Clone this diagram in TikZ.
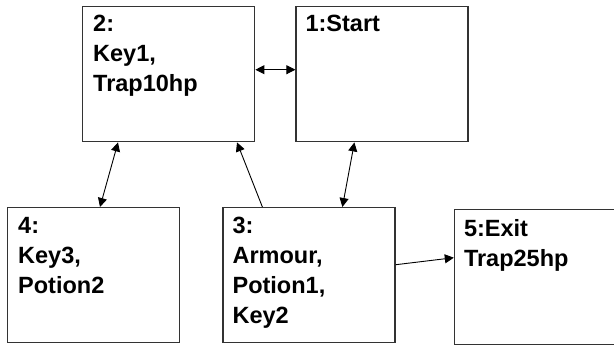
\documentclass[tikz,border=0pt]{standalone}
\usepackage{fontspec}
\setmainfont{Liberation Sans}
\usetikzlibrary{positioning,arrows.meta}

\begin{document}
\begin{tikzpicture}[
		x=1pt, y=-1pt,
		node distance=40pt,
		room/.style={
			draw=black!80,
			line width=1.4pt,
			rectangle,
			minimum width=172pt,
			minimum height=135pt,
			inner sep=0pt,
		},
		roomtext/.style={
			anchor=north west,
			inner sep=0pt,
			align=left,
			font=\fontsize{23.5}{30}\selectfont\bfseries,
		},
		door/.style={
			line width=0.9pt,
			-{Triangle[length=9pt,width=9pt]},
		},
		twoway/.style={
			line width=0.9pt,
			{Triangle[length=9pt,width=9pt]}-{Triangle[length=9pt,width=9pt]},
		},
	]

	\useasboundingbox (0,0) rectangle (614,346);

	\node [room, anchor=north west] (room2) at (82,6) {};
	\node [room, right=of room2] (room1) {};
	\node [room, anchor=north west] (room4) at (7,207) {};
	\node [room, right=42pt of room4] (room3) {};
	\node [room, right=58pt of room3, yshift=-2pt] (room5) {};

	% what is in each room
	\node [roomtext] (txt2) at ([shift={(11,9)}]room2.north west) {2:\\Key1,\\Trap10hp};
	\node [roomtext] (txt1) at ([shift={(10,9)}]room1.north west) {1:Start};
	\node [roomtext] (txt4) at ([shift={(11,10)}]room4.north west) {4:\\Key3,\\Potion2};
	\node [roomtext] (txt3) at ([shift={(10,10)}]room3.north west) {3:\\Armour,\\Potion1,\\Key2};
	\node [roomtext] (txt5) at ([shift={(10,10)}]room5.north west) {5:Exit\\Trap25hp};

	\draw [twoway] ([yshift=4.5pt]room2.east) -- ([yshift=4.5pt]room1.west);
	\draw [twoway] ([xshift=93pt]room4.north west) -- ([xshift=36pt]room2.south west);
	\draw [door] ([xshift=40pt]room3.north west) -- ([xshift=155pt]room2.south west);
	\draw [twoway] ([xshift=120pt]room3.north west) -- ([xshift=59pt]room1.south west);
	\draw [door] ([yshift=10.5pt]room3.east) -- ([yshift=19.5pt]room5.west);

\end{tikzpicture}
\end{document}
